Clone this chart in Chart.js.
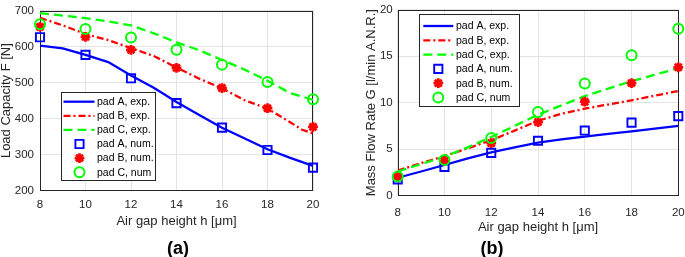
<!DOCTYPE html>
<html><head><meta charset="utf-8">
<script src="https://cdn.jsdelivr.net/npm/chart.js@4.4.1/dist/chart.umd.min.js"></script>
<style>
html,body{margin:0;padding:0;background:#fff;overflow:hidden;width:685px;height:257px;}
#ca{position:absolute;left:0;top:0;}
#cb{position:absolute;left:340px;top:0;}
.lab{position:absolute;font:bold 18px "Liberation Sans",Arial,sans-serif;color:#000;text-align:center;width:60px;line-height:20px;}
</style></head><body>
<canvas id="ca" width="340" height="257"></canvas>
<canvas id="cb" width="360" height="257"></canvas>
<div class="lab" style="left:148px;top:238px">(a)</div>
<div class="lab" style="left:462px;top:238px">(b)</div>
<script>
// ---- data ----
const gapNum = [8, 10, 12, 14, 16, 18, 20];
const gapExpA = [8, 9, 10, 11, 12, 13, 14, 15, 16, 17, 18, 19, 19.5, 20];
const gapExpB = [8, 9, 10, 11, 12, 13, 14, 15, 16, 17, 18, 19, 20];

const loadAExp = [603, 595, 577, 557, 520, 486, 446, 410, 375, 345, 315, 291, 280, 269];
const loadBExp = [680, 659, 635, 618, 596, 574, 542, 511, 484, 451, 428, 390, 370, 359];
const loadCExp = [693, 686, 679, 670, 659, 637, 612, 590, 563, 536, 505, 471, 462, 452];
const loadANum = [626, 577, 512, 443, 375, 313, 264];
const loadBNum = [655, 627, 591, 541, 485, 429, 377];
const loadCNum = [662, 649, 625, 591, 550, 502, 454];

const flowAExp = [1.93, 2.6, 3.3, 4.0, 4.65, 5.2, 5.7, 6.05, 6.35, 6.65, 6.92, 7.2, 7.5];
const flowBExp = [2.7, 3.5, 4.25, 5.1, 5.95, 7.0, 8.05, 8.8, 9.35, 9.8, 10.25, 10.75, 11.25];
const flowCExp = [2.6, 3.4, 4.2, 5.2, 6.3, 7.5, 8.7, 9.7, 10.7, 11.5, 12.3, 13.0, 13.7];
const flowANum = [1.75, 3.1, 4.6, 5.9, 7.0, 7.85, 8.55];
const flowBNum = [2.05, 3.75, 5.65, 7.9, 10.1, 12.1, 13.8];
const flowCNum = [2.05, 3.85, 6.2, 9.0, 12.05, 15.1, 17.95];

const seriesLabels = ['pad A, exp.', 'pad B, exp.', 'pad C, exp.', 'pad A, num.', 'pad B, num.', 'pad C, num'];
const xTitle = 'Air gap height h [\u03bcm]';
const yTitleA = 'Load Capacity F [N]';
const yTitleB = 'Mass Flow Rate G [l/min A.N.R.]';

// ---- styling ----
const FONT = '"Liberation Sans", Arial, sans-serif';
const BLUE = '#0000ff', RED = '#ff0000', GREEN = '#00ff00';
const AX = '#262626';

function pts(xs, ys) { return xs.map((x, i) => ({x: x, y: ys[i]})); }

function makeDatasets(xe, xn, ae, be, ce, an, bn, cn) {
  return [
    {label: seriesLabels[0], data: pts(xe, ae), showLine: true, borderColor: BLUE, borderWidth: 2.3, pointRadius: 0, order: 5, borderDash: []},
    {label: seriesLabels[1], data: pts(xe, be), showLine: true, borderColor: RED, borderWidth: 2.3, pointRadius: 0, order: 4, borderDash: [7, 3, 2, 3]},
    {label: seriesLabels[2], data: pts(xe, ce), showLine: true, borderColor: GREEN, borderWidth: 2.3, pointRadius: 0, order: 3, borderDash: [9, 5]},
    {label: seriesLabels[3], data: pts(xn, an), showLine: false, clip: false, pointStyle: 'rect', pointRadius: 5.8, pointBorderWidth: 1.9, pointBorderColor: BLUE, pointBackgroundColor: 'rgba(0,0,0,0)', borderColor: BLUE, backgroundColor: 'rgba(0,0,0,0)', order: 2},
    {label: seriesLabels[4], data: pts(xn, bn), showLine: false, clip: false, pointStyle: 'star', pointRadius: 4.9, pointBorderWidth: 2.7, pointBorderColor: RED, pointBackgroundColor: RED, borderColor: RED, backgroundColor: RED, order: 1},
    {label: seriesLabels[5], data: pts(xn, cn), showLine: false, clip: false, pointStyle: 'circle', pointRadius: 5, pointBorderWidth: 2, pointBorderColor: GREEN, pointBackgroundColor: 'rgba(0,0,0,0)', borderColor: GREEN, backgroundColor: 'rgba(0,0,0,0)', order: 0}
  ];
}

const boxLegend = {
  id: 'boxLegend',
  beforeDatasetsDraw(chart) {
    const ctx = chart.ctx, a = chart.chartArea;
    ctx.save();
    ctx.strokeStyle = AX; ctx.lineWidth = 1; ctx.setLineDash([]);
    ctx.strokeRect(Math.round(a.left) + 0.5, Math.round(a.top) + 0.5, Math.round(a.right - a.left) - 1, Math.round(a.bottom - a.top) - 1);
    ctx.restore();
  },
  afterDraw(chart, args, o) {
    const ctx = chart.ctx;
    ctx.save();
    const L = o.legend;
    ctx.fillStyle = '#fff'; ctx.fillRect(L.x, L.y, L.w, L.h);
    ctx.strokeStyle = AX; ctx.lineWidth = 1; ctx.strokeRect(L.x + 0.5, L.y + 0.5, L.w, L.h);
    chart.data.datasets.forEach((ds, i) => {
      const y = L.row0 + i * L.gap;
      ctx.save();
      if (ds.showLine) {
        ctx.strokeStyle = ds.borderColor; ctx.lineWidth = ds.borderWidth;
        ctx.setLineDash(ds.borderDash || []);
        ctx.beginPath(); ctx.moveTo(L.l0, y); ctx.lineTo(L.l1, y); ctx.stroke();
      } else {
        ctx.strokeStyle = ds.pointBorderColor; ctx.fillStyle = ds.pointBackgroundColor; ctx.lineWidth = ds.pointBorderWidth;
        Chart.helpers.drawPoint(ctx, {pointStyle: ds.pointStyle, radius: ds.pointRadius, rotation: 0, borderWidth: ds.pointBorderWidth}, L.mx, y);
      }
      ctx.restore();
      ctx.fillStyle = '#000'; ctx.font = '10.5px ' + FONT; ctx.textBaseline = 'middle'; ctx.textAlign = 'left';
      ctx.fillText(ds.label, L.tx, y + 0.5);
    });
    ctx.restore();
  }
};

function makeChart(id, datasets, cfg) {
  return new Chart(document.getElementById(id), {
    type: 'scatter',
    data: {datasets: datasets},
    plugins: [boxLegend],
    options: {
      responsive: false, animation: false, events: [],
      layout: {padding: cfg.pad},
      plugins: {legend: {display: false}, tooltip: {enabled: false}, boxLegend: {legend: cfg.legend}},
      scales: {
        x: {
          type: 'linear', min: 8, max: 20,
          ticks: {stepSize: 2, color: AX, padding: cfg.xTickPad, font: {family: FONT, size: 11.5, lineHeight: 0.8}},
          grid: {color: '#e4e4e4', drawTicks: false},
          border: {display: false},
          title: {display: true, text: xTitle, color: AX, padding: {top: 0, bottom: 0}, font: {family: FONT, size: 13, lineHeight: 1}},
          afterFit(s) { s.height = cfg.xH; }
        },
        y: {
          type: 'linear', min: cfg.yMin, max: cfg.yMax,
          ticks: {stepSize: cfg.yStep, color: AX, padding: cfg.yTickPad, font: {family: FONT, size: 11.5, lineHeight: 0.8}},
          grid: {color: '#e4e4e4', drawTicks: false},
          border: {display: false},
          title: {display: true, text: cfg.yTitle, color: AX, padding: {top: cfg.yTitlePad, bottom: 0}, font: {family: FONT, size: 13, lineHeight: 1}},
          afterFit(s) { s.width = cfg.yW; }
        }
      }
    }
  });
}

makeChart('ca', makeDatasets(gapExpA, gapNum, loadAExp, loadBExp, loadCExp, loadANum, loadBNum, loadCNum), {
  pad: {left: 0, right: 27, top: 4.7, bottom: 29},
  xH: 37.3, yW: 40, xTickPad: 10, yTickPad: 6, yTitlePad: 0,
  yMin: 200, yMax: 700, yStep: 100, yTitle: yTitleA,
  legend: {x: 61, y: 92, w: 94, h: 88, row0: 101.7, gap: 14.1, l0: 63.5, l1: 94.5, mx: 79.5, tx: 97}
});

makeChart('cb', makeDatasets(gapExpB, gapNum, flowAExp, flowBExp, flowCExp, flowANum, flowBNum, flowCNum), {
  pad: {left: 0, right: 21.7, top: 5, bottom: 23},
  xH: 38.3, yW: 57.7, xTickPad: 13, yTickPad: 5, yTitlePad: 25,
  yMin: 0, yMax: 20, yStep: 5, yTitle: yTitleB,
  legend: {x: 79, y: 14, w: 100, h: 92, row0: 26, gap: 14.3, l0: 83.3, l1: 113.3, mx: 98.3, tx: 116}
});
</script>
</body></html>
